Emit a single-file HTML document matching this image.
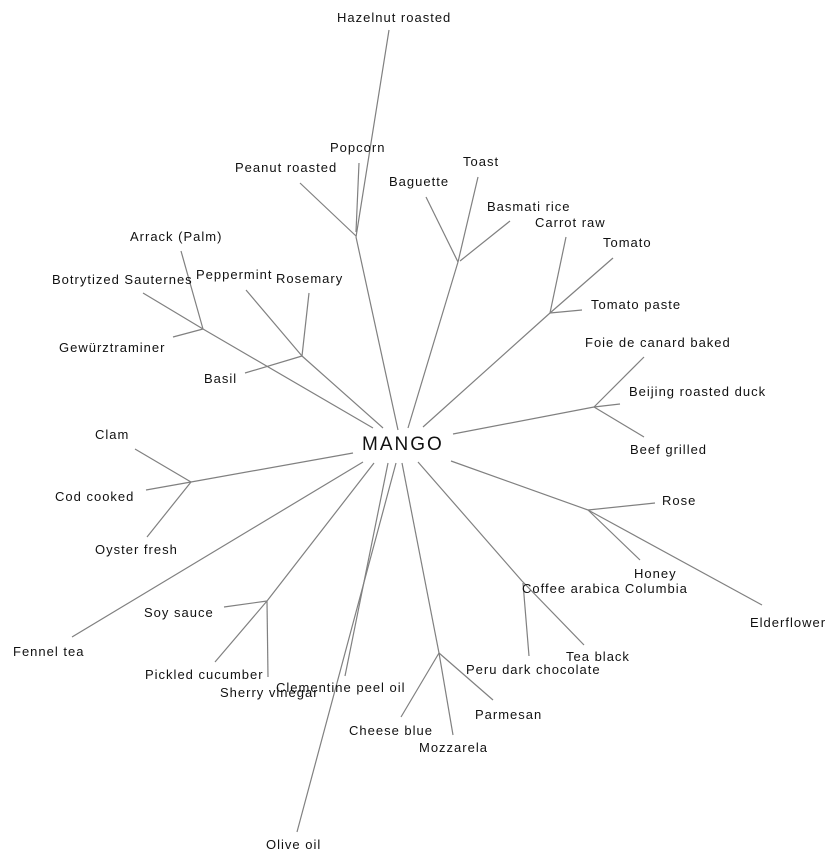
<!DOCTYPE html>
<html><head><meta charset="utf-8"><style>
html,body{margin:0;padding:0;background:#fff;}
svg{display:block;}
text{font-family:"Liberation Sans",Arial,sans-serif;font-size:13px;fill:#111;letter-spacing:1px;}
line{stroke:#808080;stroke-width:1.2;}
</style></head><body>
<svg width="840" height="864" viewBox="0 0 840 864" xmlns="http://www.w3.org/2000/svg">
<g>
<line x1="398" y1="430" x2="356" y2="237"/>
<line x1="356" y1="237" x2="389" y2="30"/>
<line x1="359" y1="163" x2="356" y2="232"/>
<line x1="300" y1="183" x2="356" y2="236"/>

<line x1="408" y1="428" x2="458" y2="262"/>
<line x1="426" y1="197" x2="458" y2="262"/>
<line x1="478" y1="177" x2="458" y2="262"/>
<line x1="510" y1="221" x2="460" y2="261"/>

<line x1="423" y1="427" x2="550" y2="313"/>
<line x1="566" y1="237" x2="550" y2="313"/>
<line x1="613" y1="258" x2="550" y2="313"/>
<line x1="582" y1="310" x2="550" y2="313"/>

<line x1="453" y1="434" x2="594" y2="407"/>
<line x1="644" y1="357" x2="594" y2="407"/>
<line x1="620" y1="404" x2="594" y2="407"/>
<line x1="644" y1="437" x2="594" y2="407"/>

<line x1="451" y1="461" x2="588" y2="510"/>
<line x1="655" y1="503" x2="588" y2="510"/>
<line x1="640" y1="560" x2="588" y2="510"/>
<line x1="762" y1="605" x2="588" y2="510"/>

<line x1="418" y1="462" x2="522" y2="581"/>
<line x1="522" y1="581" x2="584" y2="645"/>
<line x1="523" y1="583" x2="529" y2="656"/>

<line x1="402" y1="463" x2="439" y2="653"/>
<line x1="401" y1="717" x2="439" y2="653"/>
<line x1="453" y1="735" x2="439" y2="653"/>
<line x1="493" y1="700" x2="439" y2="653"/>

<line x1="396" y1="463" x2="297" y2="832"/>
<line x1="388" y1="463" x2="345" y2="676"/>

<line x1="374" y1="463" x2="267" y2="601"/>
<line x1="224" y1="607" x2="267" y2="601"/>
<line x1="215" y1="662" x2="267" y2="601"/>
<line x1="268" y1="677" x2="267" y2="601"/>

<line x1="363" y1="462" x2="72" y2="637"/>

<line x1="353" y1="453" x2="191" y2="482"/>
<line x1="135" y1="449" x2="191" y2="482"/>
<line x1="146" y1="490" x2="191" y2="482"/>
<line x1="147" y1="537" x2="191" y2="482"/>

<line x1="373" y1="428" x2="203" y2="329"/>
<line x1="181" y1="251" x2="203" y2="329"/>
<line x1="143" y1="293" x2="203" y2="329"/>
<line x1="173" y1="337" x2="203" y2="329"/>

<line x1="383" y1="428" x2="302" y2="356"/>
<line x1="246" y1="290" x2="302" y2="356"/>
<line x1="309" y1="293" x2="302" y2="356"/>
<line x1="245" y1="373" x2="302" y2="356"/>
</g>
<g>
<text x="337" y="22">Hazelnut roasted</text>
<text x="330" y="152">Popcorn</text>
<text x="235" y="172">Peanut roasted</text>
<text x="389" y="186">Baguette</text>
<text x="463" y="166">Toast</text>
<text x="487" y="211">Basmati rice</text>
<text x="535" y="227">Carrot raw</text>
<text x="603" y="247">Tomato</text>
<text x="591" y="309">Tomato paste</text>
<text x="585" y="347">Foie de canard baked</text>
<text x="629" y="396">Beijing roasted duck</text>
<text x="630" y="454">Beef grilled</text>
<text x="662" y="505">Rose</text>
<text x="634" y="578">Honey</text>
<text x="522" y="593">Coffee arabica Columbia</text>
<text x="750" y="627">Elderflower</text>
<text x="566" y="661">Tea black</text>
<text x="466" y="674">Peru dark chocolate</text>
<text x="475" y="719">Parmesan</text>
<text x="349" y="735">Cheese blue</text>
<text x="419" y="752">Mozzarela</text>
<text x="266" y="849">Olive oil</text>
<text x="220" y="697">Sherry vinegar</text>
<text x="276" y="692">Clementine peel oil</text>
<text x="145" y="679">Pickled cucumber</text>
<text x="144" y="617">Soy sauce</text>
<text x="13" y="656">Fennel tea</text>
<text x="95" y="554">Oyster fresh</text>
<text x="55" y="501">Cod cooked</text>
<text x="95" y="439">Clam</text>
<text x="59" y="352">Gewürztraminer</text>
<text x="52" y="284">Botrytized Sauternes</text>
<text x="130" y="241">Arrack (Palm)</text>
<text x="196" y="279">Peppermint</text>
<text x="276" y="283">Rosemary</text>
<text x="204" y="383">Basil</text>
<text x="362" y="450" style="font-size:19px;letter-spacing:2px">MANGO</text>
</g>
</svg>
</body></html>
